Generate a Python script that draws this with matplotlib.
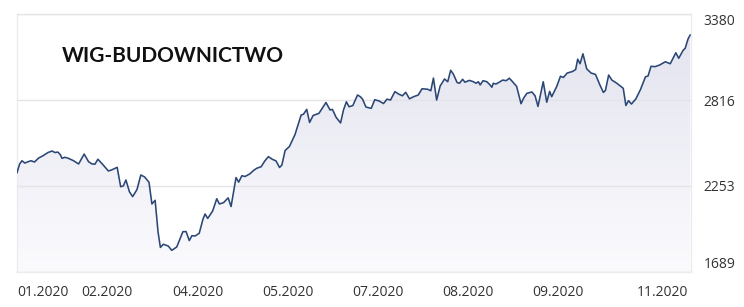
import numpy as np
import matplotlib
matplotlib.use("Agg")
import matplotlib.pyplot as plt
from matplotlib.colors import LinearSegmentedColormap

# Trading-session index (x) and index level (y)
session = [0.0, 0.9, 1.7, 2.7, 3.8, 4.8, 6.0, 7.4, 8.9, 10.6, 12.0, 13.0, 14.0, 14.9,
           15.4, 16.4, 17.6, 19.4, 21.1, 23.0, 24.5, 25.7, 26.7, 27.7, 29.3, 31.3,
           32.4, 34.3, 35.5, 36.4, 37.3, 38.5, 39.6, 41.1, 42.4, 43.7, 45.2, 46.2,
           47.3, 48.3, 49.1, 50.1, 51.8, 53.0, 54.7, 56.8, 57.9, 59.0, 59.9, 61.0,
           62.4, 63.7, 64.4, 65.3, 67.0, 68.4, 69.3, 70.7, 72.3, 73.3, 75.0, 75.9,
           77.0, 78.1, 79.8, 80.9, 82.1, 83.6, 84.9, 86.1, 87.4, 88.7, 89.9, 90.7,
           91.8, 93.3, 95.2, 97.3, 98.1, 99.2, 100.2, 101.4, 103.4, 105.0, 105.8,
           107.2, 108.0, 109.3, 110.8, 111.8, 112.8, 113.7, 115.0, 116.6, 117.5,
           118.3, 119.5, 121.3, 122.5, 124.0, 125.5, 126.7, 127.9, 129.4, 130.8,
           132.0, 133.1, 134.4, 135.8, 137.4, 138.7, 140.6, 141.7, 142.6, 143.7,
           144.9, 146.4, 147.5, 148.5, 149.4, 150.7, 151.5, 152.6, 153.4, 154.9,
           156.3, 157.2, 158.0, 158.6, 159.6, 160.9, 162.0, 162.6, 163.1, 164.0,
           165.4, 166.3, 167.5, 168.6, 169.8, 171.1, 172.6, 173.5, 174.6, 176.3,
           177.4, 178.4, 180.2, 181.4, 182.4, 183.1, 184.8, 186.1, 187.1, 188.4,
           190.2, 191.3, 192.0, 192.8, 193.8, 195.1, 196.6, 198.1, 199.6, 200.8,
           201.5, 202.6, 203.7, 205.4, 207.0, 207.6, 208.5, 209.4, 210.4, 211.9,
           213.5, 215.2, 216.1, 217.1, 218.5, 220.1, 222.0, 223.7, 225.6, 226.6,
           228.1, 228.8, 229.8, 230.5]

level = [2340, 2397, 2418, 2403, 2412, 2418, 2410, 2436, 2451, 2472, 2482, 2472, 2475, 2456,
         2434, 2441, 2434, 2418, 2397, 2462, 2412, 2397, 2396, 2428, 2395, 2351,
         2358, 2375, 2248, 2253, 2292, 2215, 2183, 2230, 2325, 2312, 2277, 2135,
         2159, 1951, 1850, 1871, 1859, 1831, 1853, 1953, 1954, 1895, 1927, 1925,
         1943, 2036, 2069, 2040, 2089, 2169, 2135, 2143, 2175, 2118, 2308, 2278,
         2320, 2315, 2333, 2353, 2369, 2379, 2418, 2445, 2428, 2417, 2374, 2390,
         2485, 2512, 2590, 2718, 2723, 2755, 2669, 2715, 2729, 2777, 2800,
         2751, 2755, 2702, 2666, 2751, 2805, 2772, 2780, 2849, 2839,
         2823, 2770, 2762, 2818, 2810, 2793, 2822, 2816, 2871, 2854,
         2844, 2867, 2824, 2838, 2849, 2890, 2887, 2877, 2960, 2816,
         2908, 2954, 2936, 3011, 2987, 2931, 2926, 2952, 2933, 2945,
         2936, 2926, 2936, 2915, 2943, 2936, 2915, 2900, 2926, 2921,
         2936, 2947, 2943, 2959, 2934, 2905, 2792, 2829, 2860, 2869,
         2844, 2774, 2936, 2802, 2873, 2838, 2904, 2972, 2964, 2993,
         3003, 3016, 3084, 3054, 3119, 3020, 2993, 2984, 2915, 2866,
         2879, 2980, 2947, 2926, 2902, 2893, 2780, 2812, 2790, 2823,
         2885, 2968, 2974, 3037, 3035, 3046, 3067, 3054, 3126, 3090,
         3142, 3155, 3217, 3242]

title = "WIG-BUDOWNICTWO"
y_ticks = [1689, 2253, 2816, 3380]
x_label_pos = [8.9, 30.8, 62.0, 92.8, 123.6, 154.5, 185.3, 221.2]
x_labels = ["01.2020", "02.2020", "04.2020", "05.2020", "07.2020", "08.2020", "09.2020", "11.2020"]
x_grid_pos = [30.8, 62.0, 92.8, 123.6, 154.5, 185.3]

x_min, x_max = 0.0, 230.8
y_min, y_max = 1689, 3380

plt.rcParams['font.family'] = ['Open Sans', 'DejaVu Sans']

fig = plt.figure(figsize=(7.44, 3.07), dpi=100)
ax = fig.add_axes([17/744, 1 - 272/307, 674/744, 258/307])
ax.set_xlim(x_min, x_max)
ax.set_ylim(y_min, y_max)

# gradient fill under the line
cmap = LinearSegmentedColormap.from_list("fill", ["#fbfbfe", "#e2e2ee"])
grad = np.linspace(0, 1, 256).reshape(-1, 1)
im = ax.imshow(grad, extent=[x_min, x_max, y_min, y_max], origin="lower",
               cmap=cmap, aspect="auto", zorder=1)
poly = ax.fill_between(session, level, y_min, color="none", lw=0)
clip_path = poly.get_paths()[0]
im.set_clip_path(clip_path, transform=ax.transData)

ax.plot(session, level, color="#2b4775", lw=1.15, zorder=3, solid_joinstyle="round")

# grid (drawn above the fill, below the line)
ax.set_yticks(y_ticks)
ax.set_xticks(x_label_pos)
ax.set_xticklabels(x_labels)
ax.set_xticks(x_grid_pos, minor=True)
ax.set_axisbelow(False)
ax.yaxis.grid(True, color="#e3e3e8", lw=1, zorder=2)
ax.xaxis.grid(True, which="minor", color="#e3e3e8", lw=1, zorder=2)
ax.xaxis.grid(False, which="major")

ax.yaxis.tick_right()
ax.tick_params(axis="y", length=0, pad=9, labelsize=10, labelcolor="#333333")
ax.tick_params(axis="x", which="both", length=0, pad=9, labelsize=10, labelcolor="#333333")
labels = ax.get_yticklabels()
labels[0].set_va("bottom")
labels[-1].set_va("top")

for s in ax.spines.values():
    s.set_color("#ececef")
    s.set_linewidth(1)

ax.text(0.067, 0.815, title, transform=ax.transAxes, fontsize=15,
        fontweight="bold", family=["Lato", "DejaVu Sans"], color="#111111",
        va="baseline", ha="left", zorder=5)

fig.savefig("out.png", dpi=100)
